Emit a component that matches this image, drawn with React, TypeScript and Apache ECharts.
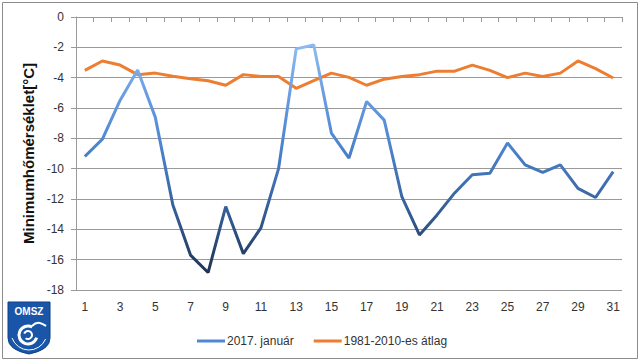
import React, { useEffect, useRef } from "react";
import * as echarts from "echarts";

const days: string[] = Array.from({ length: 31 }, (_, i) => String(i + 1));
const jan2017: number[] = [
  -9.2, -8.05, -5.5, -3.5, -6.6, -12.4, -15.7, -16.85, -12.5, -15.6, -13.9, -10.0,
  -2.1, -1.85, -7.65, -9.3, -5.57, -6.8, -11.85, -14.37, -13.05, -11.6, -10.4, -10.3,
  -8.3, -9.75, -10.25, -9.75, -11.3, -11.9, -10.2,
];
const avg1981_2010: number[] = [
  -3.52, -2.9, -3.17, -3.8, -3.7, -3.9, -4.07, -4.2, -4.5, -3.8, -3.93, -3.93,
  -4.7, -4.2, -3.7, -3.98, -4.5, -4.1, -3.92, -3.8, -3.57, -3.57, -3.17, -3.52,
  -4.0, -3.7, -3.92, -3.7, -2.9, -3.4, -4.02,
];
const seriesNames: string[] = ["2017. január", "1981-2010-es átlag"];
const yAxisTitle = "Minimumhőmérséklet[°C]";
const logoText = "OMSZ";

const shieldD = "M0,0 L42,0 L42,36 Q42,48 21,52 Q0,48 0,36 Z";
echarts.graphic.registerShape("omszShield", echarts.graphic.extendPath(shieldD, {}) as any);

const FONT = "Liberation Sans";

export default function App() {
  const ref = useRef<HTMLDivElement>(null);
  useEffect(() => {
    if (!ref.current) return;
    const chart = echarts.init(ref.current, undefined, { renderer: "svg" });
    chart.setOption({
      animation: false,
      backgroundColor: "#ffffff",
      textStyle: { fontFamily: FONT },
      grid: { left: 76, right: 18, top: 17, bottom: 72 },
      xAxis: {
        type: "category",
        data: days,
        boundaryGap: true,
        axisLine: { show: true, lineStyle: { color: "#9a9a9a", width: 1 } },
        axisTick: { show: true, interval: 0, length: 5, lineStyle: { color: "#9a9a9a" } },
        axisLabel: { interval: 1, color: "#333", fontSize: 12, margin: 11, fontFamily: FONT },
        splitLine: { show: false },
      },
      yAxis: {
        type: "value",
        min: -18,
        max: 0,
        interval: 2,
        name: yAxisTitle,
        nameLocation: "middle",
        nameRotate: 90,
        nameGap: 36,
        nameTextStyle: { fontSize: 15, fontWeight: "bold", color: "#111", fontFamily: FONT },
        axisLine: { show: true, lineStyle: { color: "#9a9a9a", width: 1 } },
        axisTick: { show: true, length: 5, lineStyle: { color: "#9a9a9a" } },
        axisLabel: { color: "#333", fontSize: 12, margin: 12, fontFamily: FONT },
        splitLine: { show: true, lineStyle: { color: "#9a9a9a", width: 1 } },
      },
      visualMap: {
        type: "continuous",
        show: false,
        seriesIndex: 0,
        dimension: 1,
        min: -17,
        max: -2,
        inRange: { color: ["#1f3350", "#2f5283", "#3e6fb0", "#4f88d4", "#6a9ee2", "#8cbaf0"] },
      },
      legend: {
        left: 192,
        top: 330,
        icon: "rect",
        itemWidth: 28,
        itemHeight: 3,
        itemGap: 20,
        textStyle: { color: "#333", fontSize: 12, fontFamily: FONT, padding: [0, 0, 0, -3] },
        data: seriesNames,
      },
      series: [
        {
          name: seriesNames[0],
          type: "line",
          data: jan2017,
          showSymbol: false,
          symbol: "none",
          lineStyle: { width: 3 },
          itemStyle: { color: "#4f88d4" },
          z: 3,
        },
        {
          name: seriesNames[1],
          type: "line",
          data: avg1981_2010,
          showSymbol: false,
          symbol: "none",
          lineStyle: { width: 3, color: "#ed7d31" },
          itemStyle: { color: "#ed7d31" },
          z: 2,
        },
      ],
      graphic: [
        {
          type: "rect",
          shape: { x: 2.5, y: 2.5, width: 635, height: 356 },
          style: { fill: "none", stroke: "#8c8c8c", lineWidth: 1 },
          silent: true,
        },
        {
          type: "group",
          x: 8,
          y: 302,
          children: [
            { type: "omszShield", x: 0, y: 0, style: { fill: "#1a56a8", stroke: "#0f3f86", lineWidth: 1 } },
            {
              type: "text",
              x: 21,
              y: 4,
              style: { text: logoText, fill: "#ffffff", font: "bold 10px " + FONT, textAlign: "center" },
            },
            {
              type: "arc",
              shape: { cx: 20, cy: 33, r: 9, startAngle: 0.3, endAngle: 5.2 },
              style: { stroke: "#ffffff", lineWidth: 3, fill: "none" },
            },
            {
              type: "arc",
              shape: { cx: 20, cy: 33, r: 4, startAngle: 3.5, endAngle: 8.5 },
              style: { stroke: "#ffffff", lineWidth: 2, fill: "none" },
            },
            {
              type: "bezierCurve",
              shape: { x1: 24, y1: 24, x2: 38, y2: 24, cpx1: 30, cpy1: 18, cpx2: 35, cpy2: 22 },
              style: { stroke: "#ffffff", lineWidth: 2, fill: "none" },
            },
            {
              type: "arc",
              shape: { cx: 21, cy: 30, r: 18, startAngle: 0.4, endAngle: 2.8 },
              style: { stroke: "#ffffff", lineWidth: 1, fill: "none" },
            },
          ],
        },
      ],
    });
    return () => chart.dispose();
  }, []);
  return (
    <div style={{ position: "fixed", left: 0, top: 0, width: 640, height: 362, background: "#fff" }}>
      <div ref={ref} style={{ width: 640, height: 362 }} />
    </div>
  );
}
